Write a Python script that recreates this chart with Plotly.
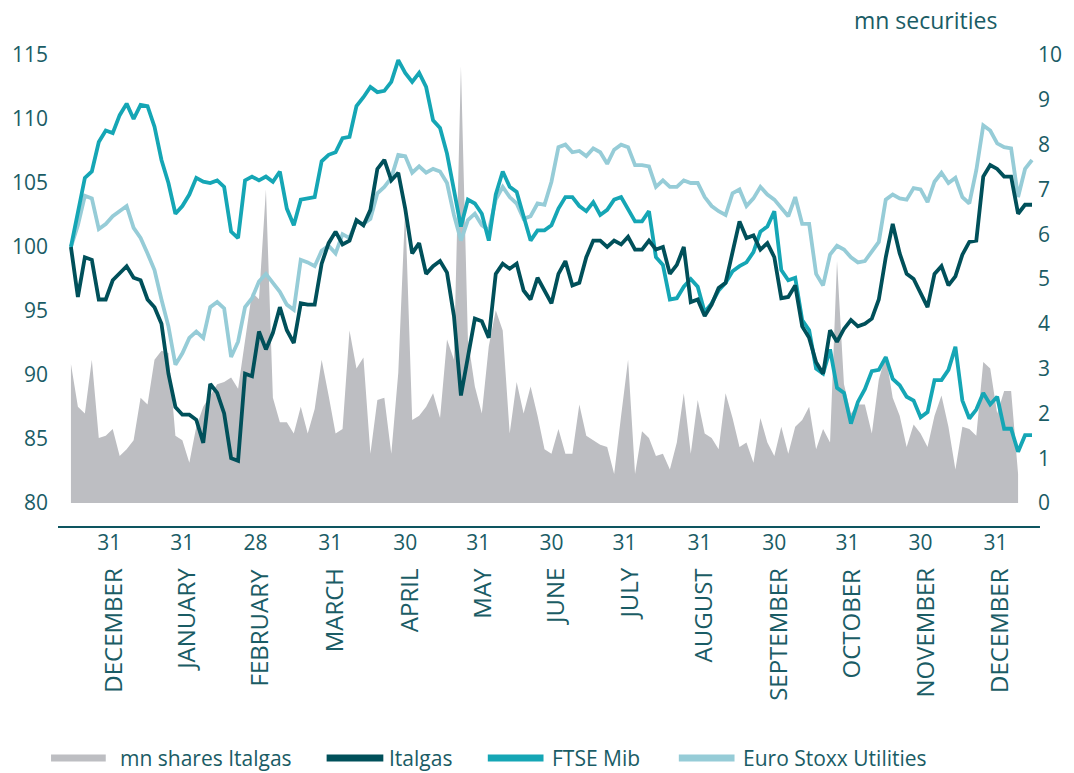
import plotly.graph_objects as go

# ---------------- data (rebased index = 100, sampled every 2 trading days) ----------------
italgas = [100.0, 96.1, 99.2, 99.0, 95.9, 95.9, 97.4, 97.9, 98.5, 97.6,
           97.4, 95.9, 95.3, 94.0, 90.1, 87.5, 86.9, 86.9, 86.5, 84.7,
           89.3, 88.6, 87.0, 83.5, 83.3, 90.1, 89.9, 93.4, 92.0, 93.3,
           95.3, 93.5, 92.5, 95.6, 95.5, 95.5, 98.7, 100.3, 101.2, 100.2,
           100.5, 102.1, 101.7, 102.9, 106.1, 106.8, 105.2, 105.8, 103.0, 99.5,
           100.3, 97.9, 98.5, 98.9, 98.0, 94.6, 88.4, 91.4, 94.4, 94.2,
           92.9, 97.9, 98.7, 98.3, 98.7, 96.6, 95.9, 97.6, 96.6, 95.6,
           97.9, 98.9, 97.0, 97.2, 99.2, 100.5, 100.5, 100.0, 100.5, 100.2,
           100.8, 99.8, 99.8, 100.5, 99.8, 100.0, 97.9, 98.6, 100.0, 95.7,
           95.9, 94.6, 95.5, 96.8, 97.2, 99.5, 102.0, 100.7, 100.9, 99.8,
           100.3, 99.2, 96.0, 96.1, 97.0, 93.8, 92.9, 91.0, 90.1, 93.5,
           92.6, 93.6, 94.3, 93.8, 94.0, 94.4, 95.9, 99.2, 101.8, 99.5,
           97.9, 97.5, 96.4, 95.3, 97.9, 98.5, 97.0, 97.7, 99.4, 100.4,
           100.5, 105.5, 106.4, 106.1, 105.5, 105.5, 102.6, 103.3, 103.3]

ftse_mib = [100.0, 102.6, 105.4, 105.9, 108.2, 109.1, 108.9, 110.3, 111.2, 110.0,
            111.1, 111.0, 109.4, 106.8, 105.0, 102.6, 103.2, 104.1, 105.4, 105.1,
            105.0, 105.2, 104.7, 101.2, 100.7, 105.2, 105.5, 105.2, 105.5, 105.1,
            105.9, 103.0, 101.7, 103.7, 103.8, 103.9, 106.7, 107.2, 107.4, 108.5,
            108.6, 111.0, 111.7, 112.5, 112.1, 112.2, 112.9, 114.6, 113.6, 112.9,
            113.6, 112.5, 109.9, 109.3, 107.3, 104.3, 101.6, 103.7, 103.4, 102.6,
            100.5, 104.1, 105.9, 104.7, 104.3, 102.4, 100.5, 101.3, 101.3, 101.7,
            103.0, 103.9, 103.9, 103.2, 102.8, 103.5, 102.5, 102.9, 103.7, 103.9,
            103.0, 102.0, 102.0, 102.8, 99.2, 98.6, 95.9, 96.0, 96.9, 97.5,
            96.9, 94.9, 95.6, 96.6, 97.2, 98.1, 98.5, 98.8, 99.6, 101.2,
            101.6, 102.8, 98.2, 97.4, 97.6, 94.3, 93.5, 90.5, 90.1, 92.0,
            89.0, 88.6, 86.2, 87.9, 88.9, 90.3, 90.4, 91.4, 89.7, 89.2,
            88.3, 88.0, 86.7, 87.1, 89.6, 89.6, 90.4, 92.2, 88.0, 86.6,
            87.3, 88.6, 87.7, 88.3, 85.8, 85.8, 84.0, 85.3, 85.3]

euro_stoxx_utilities = [100.0, 101.7, 104.0, 103.8, 101.4, 101.8, 102.4, 102.8, 103.2, 101.5,
                        100.7, 99.5, 98.2, 95.9, 93.8, 90.8, 91.7, 92.9, 93.4, 92.9,
                        95.3, 95.7, 95.2, 91.4, 92.6, 95.3, 96.0, 97.3, 97.9, 97.2,
                        96.5, 95.5, 95.1, 99.0, 98.8, 98.5, 99.7, 100.1, 99.5, 101.0,
                        100.7, 102.0, 101.8, 102.2, 104.2, 104.7, 105.4, 107.2, 107.1, 105.8,
                        106.3, 105.8, 106.1, 105.9, 105.0, 102.5, 100.5, 102.1, 102.6, 101.7,
                        101.3, 103.7, 104.7, 103.9, 103.4, 102.2, 102.4, 103.4, 103.3, 105.1,
                        107.8, 108.0, 107.4, 107.5, 107.1, 107.7, 107.4, 106.5, 107.6, 108.0,
                        107.8, 106.4, 106.4, 106.3, 104.7, 105.2, 104.7, 104.7, 105.2, 105.0,
                        105.0, 103.9, 103.2, 102.8, 102.5, 104.2, 104.5, 103.2, 103.8, 104.7,
                        104.1, 103.7, 103.0, 102.4, 103.9, 101.8, 101.8, 97.9, 97.0, 99.4,
                        100.1, 99.8, 99.2, 98.8, 98.9, 99.6, 100.4, 103.7, 104.1, 103.8,
                        103.7, 104.6, 104.5, 103.5, 105.1, 105.8, 105.0, 105.4, 103.9, 103.4,
                        106.0, 109.5, 109.1, 108.1, 107.8, 107.7, 103.9, 106.1, 106.8]

# million Italgas shares traded
volume_mn = [3.1, 2.15, 2.0, 3.2, 1.45, 1.5, 1.65, 1.05, 1.2, 1.4,
             2.35, 2.2, 3.2, 3.4, 3.35, 1.5, 1.4, 0.9, 1.7, 2.15,
             2.4, 2.65, 2.7, 2.8, 2.55, 3.65, 4.7, 4.55, 7.0, 2.35,
             1.8, 1.8, 1.55, 2.15, 1.55, 2.1, 3.2, 2.4, 1.55, 1.65,
             3.85, 3.0, 3.25, 1.1, 2.3, 2.35, 1.1, 2.9, 6.6, 1.85,
             1.95, 2.15, 2.45, 1.9, 3.65, 3.2, 9.75, 3.65, 2.6, 2.0,
             3.5, 4.3, 3.85, 1.55, 2.7, 2.0, 2.6, 1.95, 1.2, 1.1,
             1.65, 1.1, 1.1, 2.2, 1.5, 1.4, 1.3, 1.25, 0.65, 1.95,
             3.2, 0.65, 1.6, 1.45, 1.05, 1.1, 0.75, 1.35, 2.45, 1.1,
             2.3, 1.55, 1.45, 1.2, 2.45, 1.9, 1.25, 1.35, 0.9, 1.9,
             1.35, 1.05, 1.7, 1.1, 1.7, 1.85, 2.15, 1.2, 1.65, 1.35,
             5.4, 2.65, 2.0, 2.2, 2.2, 1.55, 2.75, 3.3, 2.35, 1.95,
             1.25, 1.75, 1.55, 1.25, 1.95, 2.4, 1.7, 0.75, 1.7, 1.65,
             1.5, 3.15, 3.0, 2.0, 2.5, 2.5, 0.65]

# month-end ticks (trading-day index)
tick_days = [11, 32, 53, 74.5, 96, 117, 138, 159, 180.5, 202, 223, 244, 265.5]
tick_day_labels = ["31", "31", "28", "31", "30", "31", "30", "31", "31", "30", "31", "30", "31"]
tick_months = ["DECEMBER", "JANUARY", "FEBRUARY", "MARCH", "APRIL", "MAY", "JUNE",
               "JULY", "AUGUST", "SEPTEMBER", "OCTOBER", "NOVEMBER", "DECEMBER"]
left_ticks = [80, 85, 90, 95, 100, 105, 110, 115]
right_ticks = [0, 1, 2, 3, 4, 5, 6, 7, 8, 9, 10]

series_names = ["mn shares Italgas", "Italgas", "FTSE Mib", "Euro Stoxx Utilities"]

STEP = 2
days_lines = [STEP * i for i in range(len(italgas))]
days_vol = [STEP * i for i in range(len(volume_mn))]

# ---------------- style ----------------
C_GREY = "#BDBEC2"
C_DARK = "#00505A"
C_MID = "#15A6B5"
C_LIGHT = "#96CCD7"
C_TEXT = "#1A5C65"
FONT = "Open Sans"
FS_TICK = 21
FS_MONTH = 24
FS_LEG = 21
FS_UNIT = 23

W, H = 1074, 773
L, T = 55, 40
R = W - 1036
B = H - 527
PW = W - L - R
PH = H - T - B


def px_x(p):
    return (p - L) / PW


def px_y(p):
    return (H - B - p) / PH


fig = go.Figure()

fig.add_trace(go.Scatter(
    x=days_vol, y=volume_mn, name=series_names[0], mode="lines",
    line=dict(width=0, color=C_GREY), fill="tozeroy", fillcolor=C_GREY,
    yaxis="y", showlegend=False, hoverinfo="skip"))

for vals, name, col in [(euro_stoxx_utilities, series_names[3], C_LIGHT),
                        (ftse_mib, series_names[2], C_MID),
                        (italgas, series_names[1], C_DARK)]:
    fig.add_trace(go.Scatter(
        x=days_lines, y=vals, name=name, mode="lines",
        line=dict(width=3.8, color=col), yaxis="y2", showlegend=False))

fig.update_layout(
    width=W, height=H,
    margin=dict(l=L, r=R, t=T, b=B),
    paper_bgcolor="white", plot_bgcolor="white",
    font=dict(family=FONT, size=FS_TICK, color=C_TEXT),
    showlegend=False,
    xaxis=dict(range=[-3.714, 276.571], tickvals=tick_days, ticktext=tick_day_labels,
               showgrid=False, zeroline=False, showline=False, ticks="",
               ticklabelstandoff=1, tickfont=dict(size=FS_TICK, color=C_TEXT)),
    yaxis=dict(side="right", range=[-0.5357, 10.335], tickvals=right_ticks,
               showgrid=False, zeroline=False, showline=False, ticks="",
               ticklabelstandoff=3, tickfont=dict(size=FS_TICK, color=C_TEXT)),
    yaxis2=dict(side="left", overlaying="y", range=[78.125, 116.172], tickvals=left_ticks,
                showgrid=False, zeroline=False, showline=False, ticks="",
                ticklabelstandoff=9, tickfont=dict(size=FS_TICK, color=C_TEXT)),
)

# bottom axis line
fig.add_shape(type="line", xref="paper", yref="paper", x0=0, x1=px_x(1042), y0=0, y1=0,
              line=dict(color="#0E5560", width=2))

# month names under the day numbers
for d, m in zip(tick_days, tick_months):
    fig.add_annotation(x=d, xref="x", y=px_y(566), yref="paper", text=m, showarrow=False,
                       textangle=-90, xanchor="center", yanchor="top", xshift=3,
                       font=dict(size=FS_MONTH, color=C_TEXT, family=FONT))

# right axis unit
fig.add_annotation(x=px_x(1001), xref="paper", y=px_y(20), yref="paper", text="mn securities",
                   showarrow=False, xanchor="right", yanchor="middle",
                   font=dict(size=FS_UNIT, color=C_TEXT, family=FONT))

# legend (drawn manually)
leg_y = px_y(758)
legend_items = [
    (series_names[0], C_GREY, 48, 103, 115),
    (series_names[1], C_DARK, 325, 382, 386),
    (series_names[2], C_MID, 487, 543, 550),
    (series_names[3], C_LIGHT, 679, 735, 741),
]
for name, col, a, b, tx in legend_items:
    fig.add_shape(type="line", xref="paper", yref="paper", x0=px_x(a), x1=px_x(b),
                  y0=leg_y, y1=leg_y, line=dict(color=col, width=7))
    fig.add_annotation(x=px_x(tx), xref="paper", y=leg_y, yref="paper", text=name,
                       showarrow=False, xanchor="left", yanchor="middle",
                       font=dict(size=FS_LEG, color=C_TEXT, family=FONT))

fig.write_html("out.html", config={"displayModeBar": False},
               post_script="document.body.style.margin='0';document.body.style.overflow='hidden';")
